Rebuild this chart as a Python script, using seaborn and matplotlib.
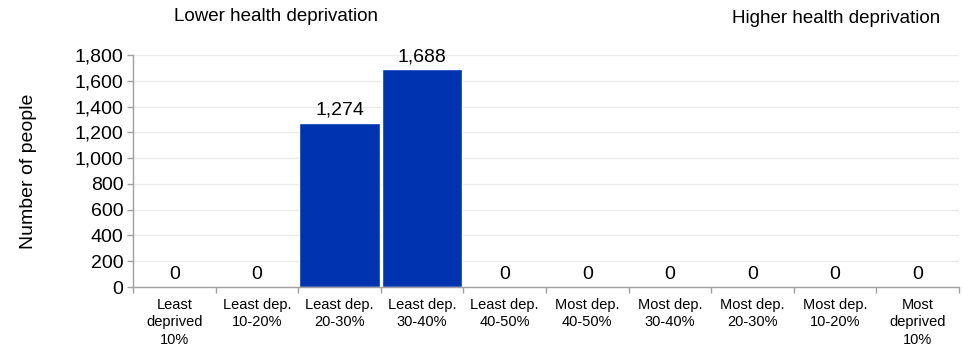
import pandas as pd
import numpy as np
import seaborn as sns
import matplotlib.pyplot as plt

# data
categories = ['Least\ndeprived\n10%', 'Least dep.\n10-20%', 'Least dep.\n20-30%', 'Least dep.\n30-40%',
              'Least dep.\n40-50%', 'Most dep.\n40-50%', 'Most dep.\n30-40%', 'Most dep.\n20-30%',
              'Most dep.\n10-20%', 'Most\ndeprived\n10%']
people = [0, 0, 1274, 1688, 0, 0, 0, 0, 0, 0]
y_ticks = [0, 200, 400, 600, 800, 1000, 1200, 1400, 1600, 1800]

df = pd.DataFrame({'decile': categories, 'people': people})

sns.set_theme(style='white')
plt.rcParams['font.family'] = ['Liberation Sans', 'DejaVu Sans']
plt.rcParams['text.color'] = 'black'
plt.rcParams['axes.labelcolor'] = 'black'
plt.rcParams['xtick.color'] = 'black'
plt.rcParams['ytick.color'] = 'black'

fig = plt.figure(figsize=(9.63, 3.5), dpi=100)
ax = fig.add_axes([0.1381, 0.18, 0.8578, 0.663])

sns.barplot(data=df, x='decile', y='people', color='#0033b0', saturation=1,
            width=0.97, ax=ax, zorder=2)

ax.set_ylim(0, 1800)
ax.set_xlim(-0.5, len(categories) - 0.5)
ax.set_yticks(y_ticks)
ax.set_yticklabels([f'{v:,}' for v in y_ticks], fontsize=14)
ax.yaxis.grid(True, color='#ebebeb', linewidth=1, zorder=0)
ax.set_axisbelow(True)

# category labels centred, ticks at the boundaries
ax.set_xticks(range(len(categories)))
ax.set_xticklabels(categories, fontsize=10.5, linespacing=1.3)
ax.set_xticks(np.arange(-0.5, len(categories)), minor=True)
ax.tick_params(axis='x', which='major', length=0, pad=8)
ax.tick_params(axis='x', which='minor', length=4, color='#a0a0a0', width=1, direction='out', bottom=True)
ax.tick_params(axis='y', length=4, color='#a0a0a0', labelcolor='black', width=1, direction='out', left=True, pad=3)

for s in ['top', 'right']:
    ax.spines[s].set_visible(False)
for s in ['left', 'bottom']:
    ax.spines[s].set_color('#a0a0a0')
    ax.spines[s].set_linewidth(1)

ax.set_xlabel('')
ax.set_ylabel('Number of people', fontsize=14, labelpad=27)

for i, v in enumerate(people):
    ax.annotate(f'{v:,}', (i, v), xytext=(0, 3), textcoords='offset points',
                ha='center', va='bottom', fontsize=14)

fig.text(0.287, 0.954, 'Lower health deprivation', ha='center', va='center', fontsize=13.5)
fig.text(0.868, 0.948, 'Higher health deprivation', ha='center', va='center', fontsize=13.5)

plt.savefig('out.png', dpi=100)
